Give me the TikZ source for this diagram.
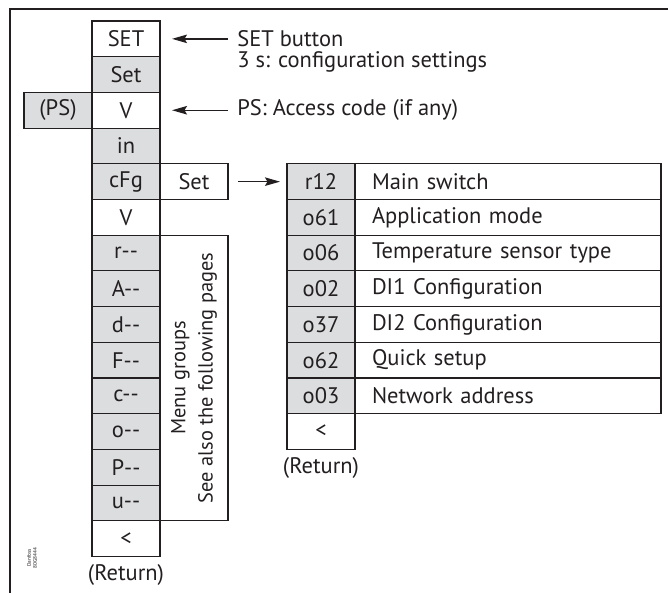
\documentclass[tikz,border=0pt]{standalone}
\usepackage{fontspec}
\setmainfont{PT Sans}
\usetikzlibrary{arrows.meta,positioning,calc}
\definecolor{menugray}{RGB}{220,221,223}
\definecolor{inkblack}{RGB}{35,31,32}

\begin{document}
\begin{tikzpicture}[
    cell/.style={draw=inkblack, line width=0.65pt, minimum width=1.36cm, minimum height=0.714cm,
                 inner sep=0pt, outer sep=0pt, text=inkblack, font=\fontsize{12.8}{15}\selectfont},
    code cell/.style={cell, fill=menugray},
    desc cell/.style={cell, text width=5.44cm, inner xsep=0.34cm, align=left},
    note/.style={inner sep=0pt, text=inkblack, font=\fontsize{12.8}{15}\selectfont},
    pointer/.style={-{Stealth[length=3mm, width=1.7mm, inset=0.5mm]}, line width=0.75pt, draw=inkblack}
]

% Page size
\useasboundingbox (0,0) rectangle (13.36,-11.86);

% Frame
\draw[inkblack, line width=0.7pt] (0.2,-11.86) -- (0.2,-0.18) -- (13.36,-0.18);

% === Main menu column ===
\node[cell] (set) at (2.52,-0.777) {SET};
\node[code cell, below=0pt of set] (setmenu) {Set};
\node[cell, below=0pt of setmenu] (code) {V};
\node[code cell, below=0pt of code] (in) {in};
\node[code cell, below=0pt of in] (cfg) {cFg};
\node[cell, below=0pt of cfg] (down) {V};
\node[code cell, below=0pt of down] (rgrp) {r-{}-};
\node[code cell, below=0pt of rgrp] (agrp) {A-{}-};
\node[code cell, below=0pt of agrp] (dgrp) {d-{}-};
\node[code cell, below=0pt of dgrp] (fgrp) {F-{}-};
\node[code cell, below=0pt of fgrp] (cgrp) {c-{}-};
\node[code cell, below=0pt of cgrp] (ogrp) {o-{}-};
\node[code cell, below=0pt of ogrp] (pgrp) {P-{}-};
\node[code cell, below=0pt of pgrp] (ugrp) {u-{}-};
\node[cell, below=0pt of ugrp] (back) {<};
\node[note, below=0.15cm of back] (backlbl) {(Return)};

% Access code and cFg submenu entry
\node[code cell, left=0pt of code] (ps) {(PS)};
\node[cell, right=0pt of cfg] (cfgset) {Set};

% Menu groups box
\node[cell, rotate=90, minimum width=5.712cm, minimum height=1.36cm, anchor=north east,
      align=center, font=\fontsize{11.6}{15.5}\selectfont] (groups) at (rgrp.north east)
      {Menu groups\\See also the following pages};

% === Notes with arrows ===
\node[note, right=1.54cm of set] (setlbl) {SET button};
\node[note, anchor=base west] (cfglbl) at ($(setlbl.base west)+(0,-0.42)$) {3 s: configuration settings};
\draw[pointer] ([xshift=-0.18cm]setlbl.west) -- ([xshift=0.24cm]set.east);

\node[note, right=1.54cm of code] (pslbl) {PS: Access code (if any)};
\draw[pointer] ([xshift=-0.18cm]pslbl.west) -- ([xshift=0.24cm]code.east);

% === Configuration parameters ===
\node[code cell, right=1.18cm of cfgset] (r12) {r12};
\node[desc cell, right=0pt of r12] (r12d) {Main switch};
\node[code cell, below=0pt of r12] (o61) {o61};
\node[desc cell, right=0pt of o61] (o61d) {Application mode};
\node[code cell, below=0pt of o61] (o06) {o06};
\node[desc cell, right=0pt of o06] (o06d) {Temperature sensor type};
\node[code cell, below=0pt of o06] (o02) {o02};
\node[desc cell, right=0pt of o02] (o02d) {DI1 Configuration};
\node[code cell, below=0pt of o02] (o37) {o37};
\node[desc cell, right=0pt of o37] (o37d) {DI2 Configuration};
\node[code cell, below=0pt of o37] (o62) {o62};
\node[desc cell, right=0pt of o62] (o62d) {Quick setup};
\node[code cell, below=0pt of o62] (o03) {o03};
\node[desc cell, right=0pt of o03] (o03d) {Network address};
\node[cell, below=0pt of o03] (cfgback) {<};
\node[note, below=0.15cm of cfgback] (cfgbacklbl) {(Return)};

\draw[pointer] ([xshift=0.2cm]cfgset.east) -- ([xshift=-0.14cm]r12.west);

% Drawing number
\node[rotate=90, inner sep=0pt, align=center, text=inkblack, font=\fontsize{3}{3.5}\selectfont] (drawno) at (0.64,-11.16) {Danfoss\\80G8444};

\end{tikzpicture}
\end{document}
